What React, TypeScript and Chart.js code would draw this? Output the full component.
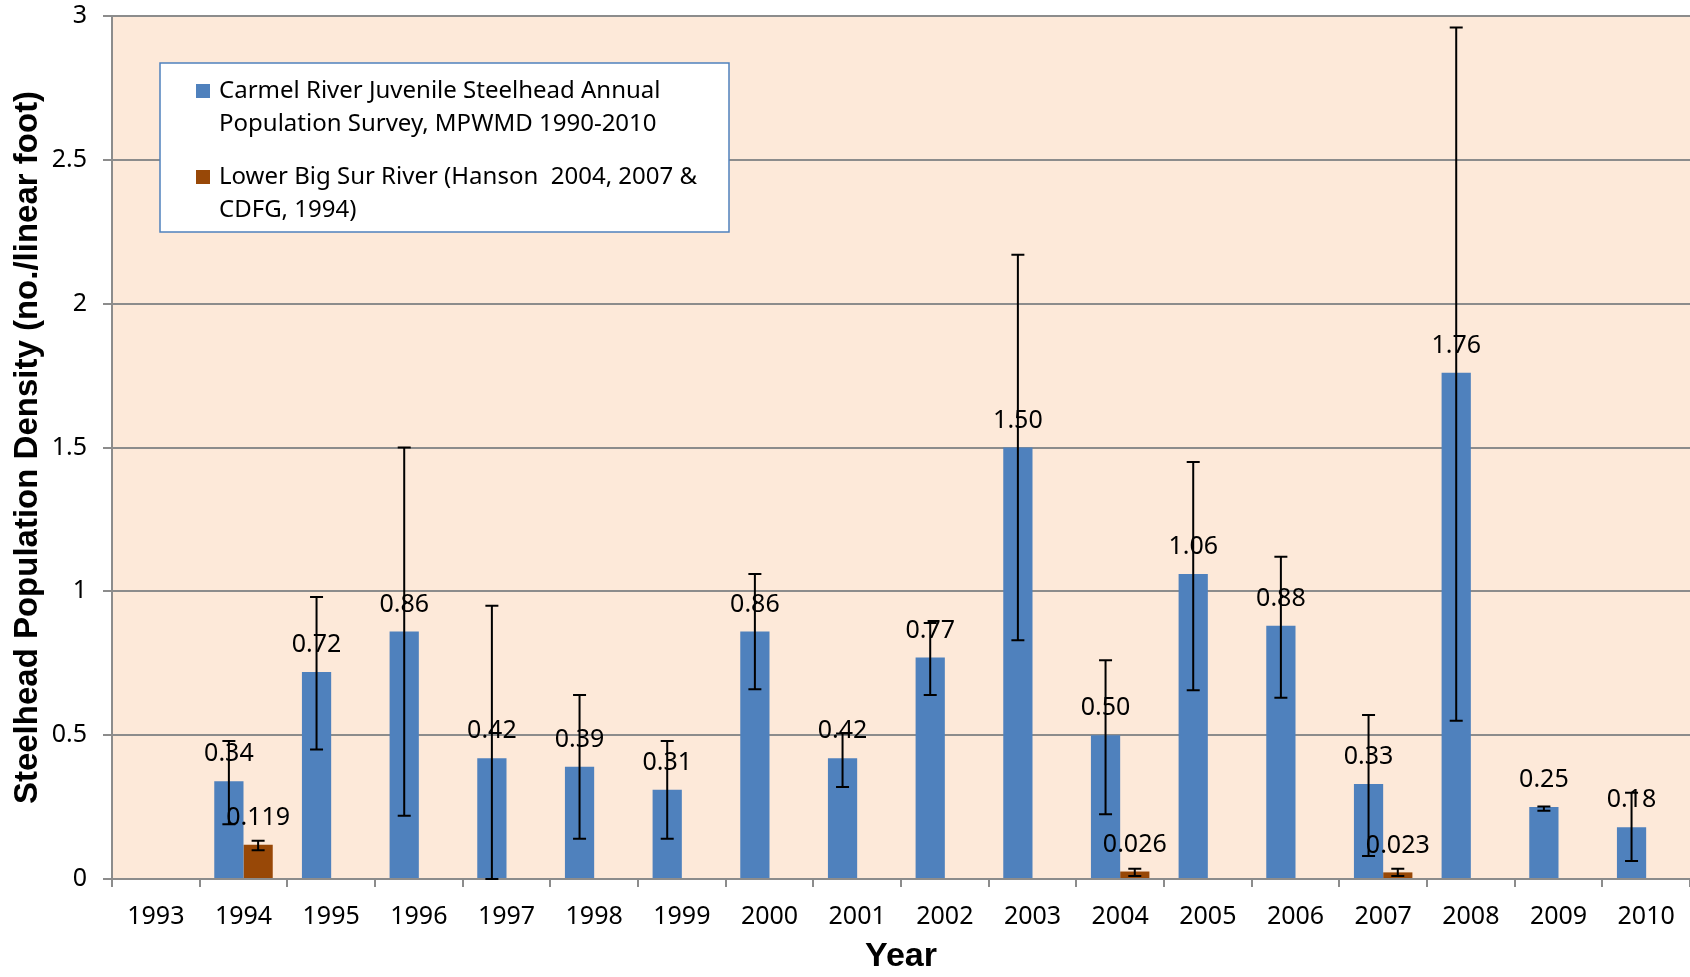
import React, { useEffect, useRef } from "react";
import { Chart, registerables } from "chart.js";

Chart.register(...registerables);

// ---------- data ----------
const years = [
  "1993", "1994", "1995", "1996", "1997", "1998", "1999", "2000", "2001",
  "2002", "2003", "2004", "2005", "2006", "2007", "2008", "2009", "2010",
];

const carmelValues = [
  null, 0.34, 0.72, 0.86, 0.42, 0.39, 0.31, 0.86, 0.42,
  0.77, 1.5, 0.5, 1.06, 0.88, 0.33, 1.76, 0.25, 0.18,
];
const carmelLow = [
  null, 0.19, 0.45, 0.22, 0.0, 0.14, 0.14, 0.66, 0.32,
  0.64, 0.83, 0.225, 0.656, 0.63, 0.08, 0.55, 0.237, 0.063,
];
const carmelHigh = [
  null, 0.48, 0.98, 1.5, 0.95, 0.64, 0.48, 1.06, 0.506,
  0.89, 2.17, 0.76, 1.45, 1.12, 0.57, 2.96, 0.252, 0.3,
];

const bigSurValues = [
  null, 0.119, null, null, null, null, null, null, null,
  null, null, 0.026, null, null, 0.023, null, null, null,
];
const bigSurLow = [
  null, 0.1, null, null, null, null, null, null, null,
  null, null, 0.01, null, null, 0.01, null, null, null,
];
const bigSurHigh = [
  null, 0.133, null, null, null, null, null, null, null,
  null, null, 0.036, null, null, 0.036, null, null, null,
];

const yTicks = [0, 0.5, 1, 1.5, 2, 2.5, 3];

const carmelLegend = [
  "Carmel River Juvenile Steelhead Annual",
  "Population Survey, MPWMD 1990-2010",
];
const bigSurLegend = [
  "Lower Big Sur River (Hanson  2004, 2007 &",
  "CDFG, 1994)",
];

const yTitle = "Steelhead Population Density (no./linear foot)";
const xTitle = "Year";

// ---------- styles ----------
const BLUE = "#4F81BD";
const BROWN = "#984807";
const PLOT_BG = "#FDE9D9";
const GRID = "#8C8C8C";
const FONT = "'Noto Sans', 'Open Sans', sans-serif";
const BOLD_FONT = "'Liberation Sans', Arial, sans-serif";

const lowsByDataset = [carmelLow, bigSurLow];
const highsByDataset = [carmelHigh, bigSurHigh];
const decimalsByDataset = [2, 3];
const legendByDataset = [carmelLegend, bigSurLegend];

const plotBgPlugin = {
  id: "plotBg",
  beforeDraw(chart: any) {
    const { ctx, chartArea } = chart;
    ctx.save();
    ctx.fillStyle = PLOT_BG;
    ctx.fillRect(
      chartArea.left,
      chartArea.top,
      chartArea.right - chartArea.left,
      chartArea.bottom - chartArea.top
    );
    ctx.restore();
  },
};

const errorAndLabelPlugin = {
  id: "errorAndLabels",
  afterDatasetsDraw(chart: any) {
    const { ctx } = chart;
    const y = chart.scales.y;
    ctx.save();
    // error bars
    chart.data.datasets.forEach((ds: any, di: number) => {
      const meta = chart.getDatasetMeta(di);
      meta.data.forEach((bar: any, i: number) => {
        const v = ds.data[i];
        if (v === null || v === undefined) return;
        const lo = lowsByDataset[di][i];
        const hi = highsByDataset[di][i];
        if (lo === null || hi === null) return;
        const x = bar.x;
        const yl = y.getPixelForValue(lo);
        const yh = y.getPixelForValue(hi);
        ctx.strokeStyle = "#000";
        ctx.lineWidth = 2;
        ctx.beginPath();
        ctx.moveTo(x, yl);
        ctx.lineTo(x, yh);
        ctx.moveTo(x - 6.5, yl);
        ctx.lineTo(x + 6.5, yl);
        ctx.moveTo(x - 6.5, yh);
        ctx.lineTo(x + 6.5, yh);
        ctx.stroke();
      });
    });
    // data labels
    ctx.fillStyle = "#000";
    ctx.font = `25px ${FONT}`;
    ctx.textAlign = "center";
    ctx.textBaseline = "middle";
    chart.data.datasets.forEach((ds: any, di: number) => {
      const meta = chart.getDatasetMeta(di);
      meta.data.forEach((bar: any, i: number) => {
        const v = ds.data[i];
        if (v === null || v === undefined) return;
        ctx.fillText(v.toFixed(decimalsByDataset[di]), bar.x, bar.y - 27);
      });
    });
    ctx.restore();
  },
};

const boxLegendPlugin = {
  id: "boxLegend",
  afterDraw(chart: any) {
    const { ctx } = chart;
    const left = 160;
    const top = 63;
    const w = 569;
    const h = 169;
    ctx.save();
    ctx.fillStyle = "#FFFFFF";
    ctx.fillRect(left, top, w, h);
    ctx.strokeStyle = BLUE;
    ctx.lineWidth = 1.5;
    ctx.strokeRect(left, top, w, h);
    ctx.font = `24px ${FONT}`;
    ctx.textAlign = "left";
    ctx.textBaseline = "middle";
    const itemTops = [91, 177];
    const lineGap = 33;
    chart.data.datasets.forEach((ds: any, di: number) => {
      const y0 = itemTops[di];
      ctx.fillStyle = ds.backgroundColor;
      ctx.fillRect(196, y0 - 7, 14, 14);
      ctx.fillStyle = "#000";
      legendByDataset[di].forEach((line: string, li: number) => {
        ctx.fillText(line, 219, y0 + li * lineGap);
      });
    });
    ctx.restore();
  },
};

export default function App() {
  const canvasRef = useRef<HTMLCanvasElement | null>(null);

  useEffect(() => {
    document.body.style.margin = "0";
    const canvas = canvasRef.current;
    if (!canvas) return;
    const chart = new Chart(canvas, {
      type: "bar",
      data: {
        labels: years,
        datasets: [
          {
            label: carmelLegend.join(" "),
            data: carmelValues as any,
            backgroundColor: BLUE,
            borderWidth: 0,
            categoryPercentage: 0.667,
            barPercentage: 1,
          },
          {
            label: bigSurLegend.join(" "),
            data: bigSurValues as any,
            backgroundColor: BROWN,
            borderWidth: 0,
            categoryPercentage: 0.667,
            barPercentage: 1,
          },
        ],
      },
      options: {
        responsive: false,
        animation: false,
        devicePixelRatio: 1,
        layout: { padding: { top: 16, left: 0, right: 0, bottom: 0 } },
        plugins: {
          legend: { display: false },
          tooltip: { enabled: false },
          title: { display: false },
        },
        scales: {
          x: {
            type: "category",
            offset: true,
            grid: {
              offset: true,
              display: true,
              drawOnChartArea: false,
              drawTicks: true,
              tickLength: 8,
              color: GRID,
              lineWidth: 2,
            },
            border: { display: true, color: GRID, width: 2 },
            ticks: {
              color: "#000",
              font: { family: FONT, size: 25 },
              padding: 15,
              maxRotation: 0,
              autoSkip: false,
            },
            title: {
              display: true,
              text: xTitle,
              color: "#000",
              font: { family: BOLD_FONT, size: 34, weight: "bold" },
              padding: { top: 0, bottom: 0 },
            },
            afterFit(scale: any) {
              scale.height = 98;
              scale.paddingTop = 0;
              scale.paddingBottom = 0;
            },
          },
          y: {
            type: "linear",
            min: 0,
            max: 3,
            afterBuildTicks(scale: any) {
              scale.ticks = yTicks.map((v) => ({ value: v }));
            },
            grid: {
              color: GRID,
              lineWidth: 2,
              drawTicks: true,
              tickLength: 9,
            },
            border: { display: true, color: GRID, width: 2 },
            ticks: {
              color: "#000",
              font: { family: FONT, size: 25 },
              padding: 16,
              callback: (v: any) => String(v),
            },
            title: {
              display: true,
              text: yTitle,
              color: "#000",
              font: { family: BOLD_FONT, size: 33, weight: "bold" },
              padding: { top: 8, bottom: 0 },
            },
            afterFit(scale: any) {
              scale.width = 112;
              scale.paddingTop = 0;
              scale.paddingBottom = 0;
            },
          },
        },
      },
      plugins: [plotBgPlugin, errorAndLabelPlugin, boxLegendPlugin],
    } as any);
    return () => chart.destroy();
  }, []);

  return (
    <div style={{ width: 1690, height: 977, background: "#fff" }}>
      <canvas
        ref={canvasRef}
        width={1690}
        height={977}
        style={{ display: "block", width: 1690, height: 977 }}
      />
    </div>
  );
}
